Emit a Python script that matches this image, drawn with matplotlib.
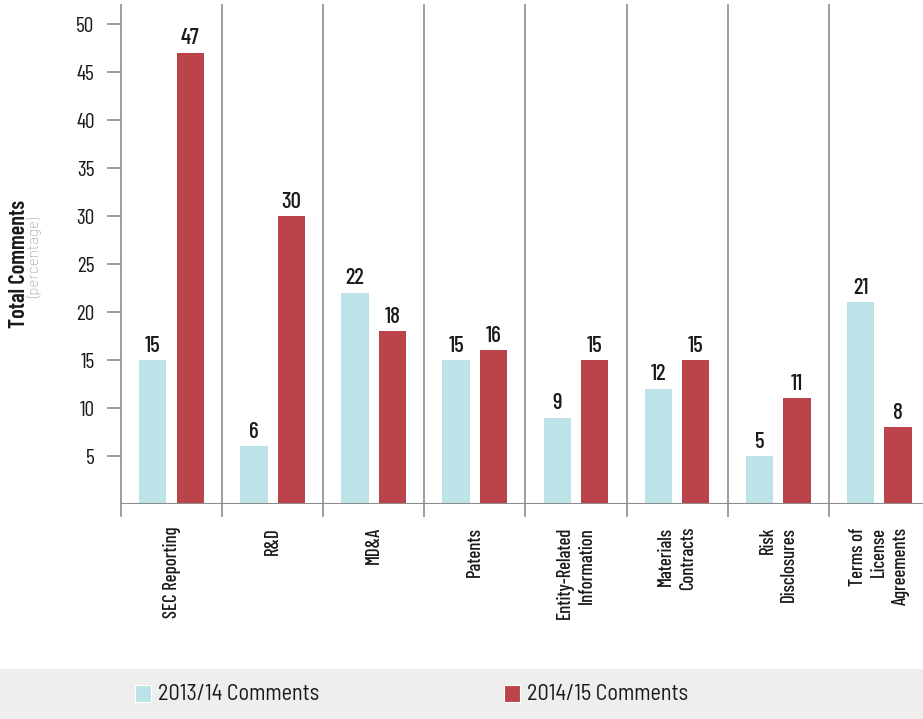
import matplotlib
matplotlib.use("Agg")
import matplotlib.pyplot as plt
from matplotlib.patches import Rectangle
import numpy as np

categories = [
    "SEC Reporting",
    "R&D",
    "MD&A",
    "Patents",
    "Entity-Related\nInformation",
    "Materials\nContracts",
    "Risk\nDisclosures",
    "Terms of\nLicense\nAgreements",
]
comments_2013_14 = [15, 6, 22, 15, 9, 12, 5, 21]
comments_2014_15 = [47, 30, 18, 16, 15, 15, 11, 8]
series_names = ["2013/14 Comments", "2014/15 Comments"]
yticks = [5, 10, 15, 20, 25, 30, 35, 40, 45, 50]

LIGHT = "#bce3e7"
RED = "#ba444a"
GRID = "#8c8c8c"
INK = "#1a1a1a"
COND = ["Barlow Condensed", "DejaVu Sans"]
SEMI = ["Barlow Semi Condensed", "Barlow Condensed", "DejaVu Sans"]
BARLOW = ["Barlow", "DejaVu Sans"]

W, H = 923, 719
fig = plt.figure(figsize=(W / 100, H / 100), dpi=100)
fig.patch.set_facecolor("white")

# legend band along the bottom edge
fig.patches.append(Rectangle((0, 0), 1, 50 / H, transform=fig.transFigure,
                             facecolor="#eeeeee", edgecolor="none", zorder=0))

ax_left, ax_right, ax_bottom, ax_top = 121, 923, 504, 5
ax = fig.add_axes([ax_left / W, (H - ax_bottom) / H,
                   (ax_right - ax_left) / W, (ax_bottom - ax_top) / H])

cat_w = 101.1
px_per_unit = 9.6
n = len(categories)
ax.set_xlim(-0.5, -0.5 + (ax_right - ax_left) / cat_w)
ax.set_ylim(0, (ax_bottom - ax_top) / px_per_unit)

x = np.arange(n)
bw = 0.27
off = 0.185
b1 = ax.bar(x - off, comments_2013_14, width=bw, color=LIGHT, zorder=2)
b2 = ax.bar(x + off, comments_2014_15, width=bw, color=RED, zorder=2)

for rects, vals in ((b1, comments_2013_14), (b2, comments_2014_15)):
    for r, v in zip(rects, vals):
        ax.text(r.get_x() + r.get_width() / 2, v + 0.45, str(v),
                ha="center", va="bottom", fontsize=16.5, fontweight="medium",
                family=COND, color=INK)

# category separators, extending below the baseline as ticks
ext = 12 / (ax_bottom - ax_top)
for k in range(n):
    ax.axvline(k - 0.5, ymin=-ext, ymax=1, color=GRID, lw=1.2,
               clip_on=False, zorder=1)
ax.axhline(0, color=GRID, lw=1.5, zorder=3)

for s in ax.spines.values():
    s.set_visible(False)

ax.set_xticks([])
ax.set_yticks(yticks)
ax.tick_params(axis="y", length=10, width=1.2, color=GRID, pad=9)
for lab in ax.get_yticklabels():
    lab.set_fontfamily(COND)
    lab.set_fontsize(15.5)
    lab.set_color(INK)

# rotated category labels
for k, c in enumerate(categories):
    ax.text(k, -23 / px_per_unit, c, rotation=90, ha="center", va="top",
            multialignment="right", fontsize=13.5, fontweight="medium",
            family=COND, color=INK, linespacing=1.25, clip_on=False)

# y-axis title
fig.text(19 / W, 1 - 264 / H, "Total Comments", rotation=90, ha="center",
         va="center", fontsize=16, fontweight="semibold", family=COND,
         color=INK)
fig.text(35 / W, 1 - 258 / H, "(percentage)", rotation=90, ha="center",
         va="center", fontsize=11, fontweight="light", family=BARLOW,
         color="#8a8a8a")

# legend
for px, name, col in ((135, series_names[0], LIGHT), (504, series_names[1], RED)):
    fig.patches.append(Rectangle((px / W, 1 - 702 / H), 16 / W, 17 / H,
                                 transform=fig.transFigure, facecolor=col,
                                 edgecolor="white", lw=0.8, zorder=2))
    fig.text((px + 23) / W, 1 - 694 / H, name, ha="left", va="center",
             fontsize=16, family=SEMI, color=INK)

fig.savefig("out.png", dpi=100)
